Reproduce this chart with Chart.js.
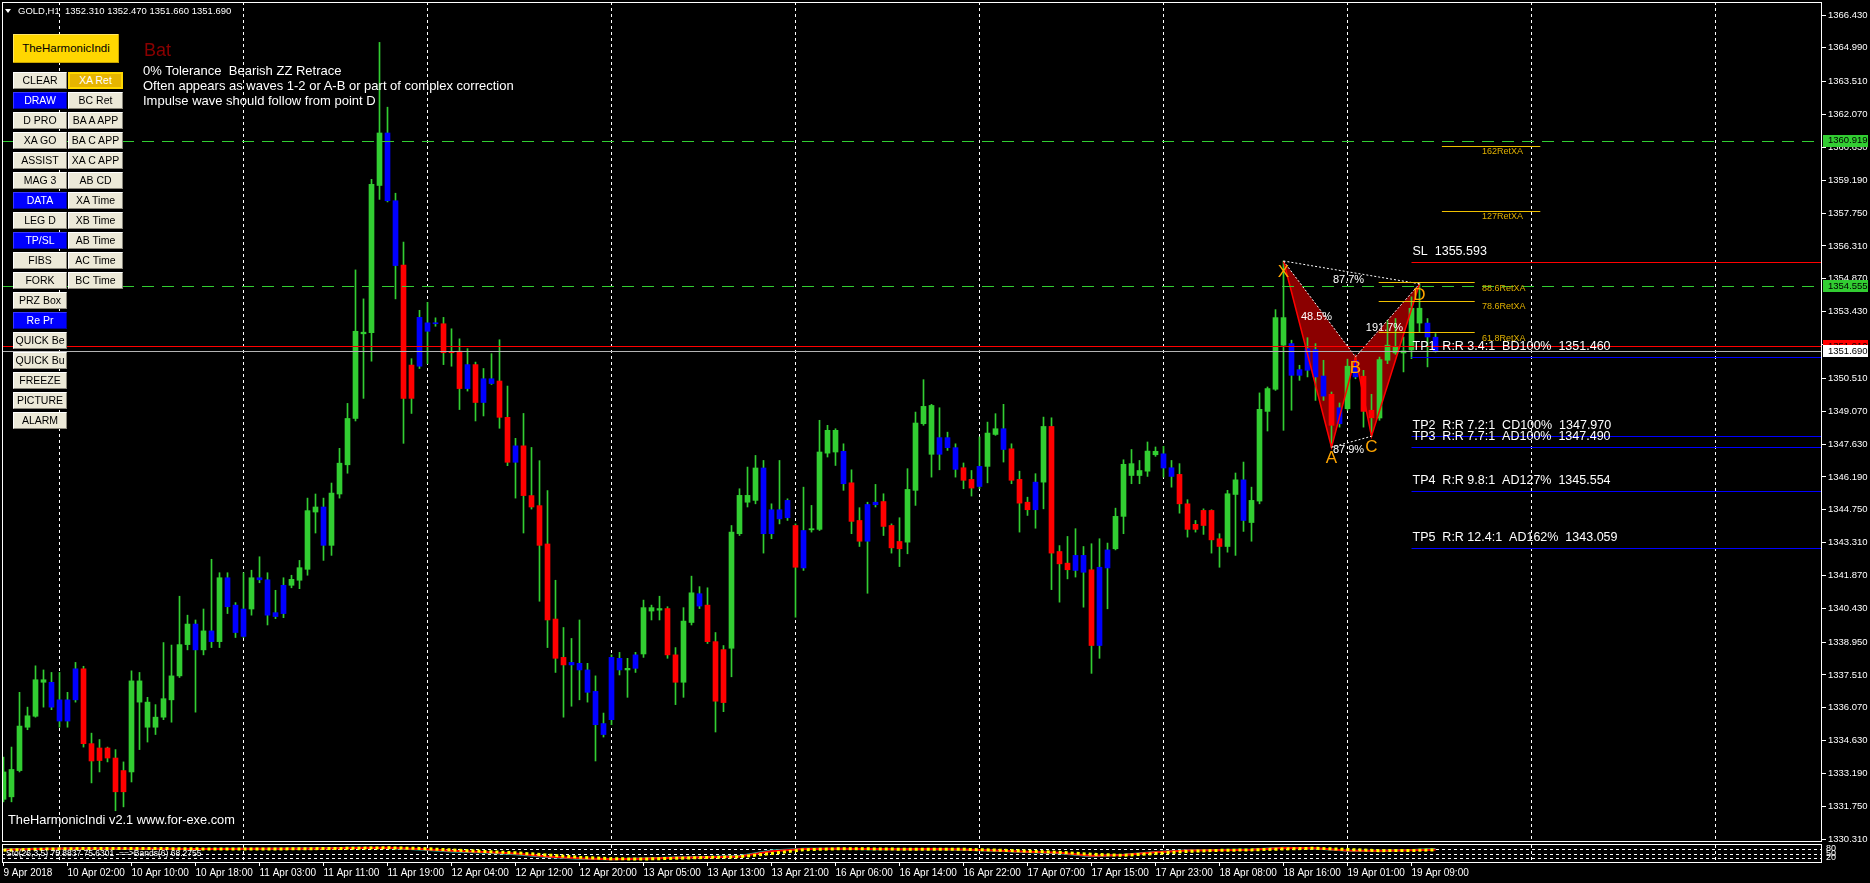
<!DOCTYPE html>
<html lang="en">
<head>
<meta charset="utf-8"/>
<title>GOLD,H1</title>
<script src="https://cdn.jsdelivr.net/npm/chart.js"></script>
<style>
  body { margin: 0; background: #000; overflow: hidden; font-family: "Liberation Sans", Arial, sans-serif; }
  #wrap { position: relative; width: 1870px; height: 883px; }
  canvas { position: absolute; left: 0; }
  #main { top: 0; }
  #sub { top: 843px; }
  .txt { position: absolute; color: #fff; white-space: pre; }
  .tri { position: absolute; left: 5px; top: 9px; width: 0; height: 0;
         border-left: 3.5px solid transparent; border-right: 3.5px solid transparent; border-top: 4px solid #fff; }
  #title { position: absolute; left: 13px; top: 34px; width: 106px; height: 29px; background: #ffd700;
           box-shadow: inset -1px -1px #c9a400, inset 1px 1px #ffe566; color: #000;
           font-size: 11.5px; line-height: 29px; text-align: center; }
  .btn { position: absolute; height: 17px; box-sizing: border-box; font-size: 10.5px; line-height: 15px;
         text-align: center; color: #000; background: #ece9d8; border: 1px solid;
         border-color: #fff #8a877c #8a877c #fff; white-space: nowrap; }
  .blue { background: #0000ff; color: #fff; border-color: #3a3aff #00009a #00009a #3a3aff; }
  .gold { background: #e6b400; color: #fff; border: 2px solid #ffd700; line-height: 13px; }
</style>
</head>
<body>
<div id="wrap">
  <canvas id="main" width="1870" height="843"></canvas>
  <canvas id="sub" width="1870" height="40"></canvas>
  <div class="tri"></div>
  <div class="txt" style="left:18px;top:5px;font-size:9.5px;line-height:12px">GOLD,H1  1352.310 1352.470 1351.660 1351.690</div>
  <div class="txt" style="left:144px;top:41px;font-size:18px;line-height:18px;color:#8b0000">Bat</div>
  <div class="txt" style="left:143px;top:63px;font-size:13px;line-height:15.2px">0% Tolerance  Bearish ZZ Retrace
Often appears as waves 1-2 or A-B or part of complex correction
Impulse wave should follow from point D</div>
  <div id="title">TheHarmonicIndi</div>
  <div id="panel"></div>
  <div class="txt" style="left:8px;top:812px;font-size:12.8px;line-height:16px">TheHarmonicIndi v2.1 www.for-exe.com</div>
</div>

<script>
// GOLD H1 candles, bar 0 = 9 Apr 18:00 ... bar 179 = 19 Apr 12:00
const barOpen = [
  1332.06,1332.17,1333.32,1335.22,1335.70,1337.19,1337.19,1336.42,1335.49,1336.42,
  1337.78,1334.50,1334.31,1334.31,1333.87,1333.32,1333.26,1336.32,1335.22,1335.22,
  1335.66,1336.42,1337.47,1338.84,1339.74,1338.61,1339.44,1338.97,1341.77,1340.57,
  1339.20,1340.40,1341.77,1341.68,1340.24,1340.20,1341.44,1341.66,1342.14,1344.65,
  1344.87,1343.19,1345.44,1346.72,1348.75,1352.46,1352.51,1358.96,1361.26,1358.29,
  1355.47,1351.09,1351.04,1352.94,1352.90,1352.90,1351.68,1351.70,1350.06,1351.11,
  1349.45,1350.49,1350.39,1348.80,1346.83,1347.55,1345.37,1344.93,1343.25,1339.96,
  1338.28,1337.95,1338.02,1337.73,1336.79,1335.38,1335.55,1338.24,1337.73,1337.80,
  1338.43,1340.31,1340.35,1340.42,1338.39,1337.19,1339.81,1341.07,1340.57,1338.97,
  1338.62,1338.68,1343.70,1345.08,1345.16,1346.58,1343.70,1344.75,1344.40,1344.06,
  1342.20,1343.87,1343.89,1347.23,1347.28,1347.31,1345.93,1344.28,1343.37,1344.97,
  1345.11,1344.06,1343.36,1343.33,1345.60,1348.52,1347.18,1347.91,1347.47,1347.47,
  1346.59,1346.08,1345.77,1346.65,1348.05,1348.30,1347.42,1346.08,1345.08,1344.75,
  1345.96,1348.40,1342.92,1342.41,1342.09,1342.75,1342.12,1338.80,1342.20,1343.04,
  1344.46,1346.25,1346.25,1346.44,1347.16,1347.20,1346.59,1346.30,1345.01,1344.11,
  1344.72,1344.72,1343.48,1343.14,1345.42,1346.06,1344.19,1345.13,1349.06,1350.03,
  1351.96,1352.03,1350.89,1350.86,1351.77,1350.61,1349.81,1348.52,1349.18,1351.30,
  1350.60,1349.11,1348.77,1351.30,1351.62,1351.62,1351.75,1353.58,1352.93,1352.31
];
const barHigh = [
  1333.91,1334.35,1336.75,1336.10,1337.91,1337.73,1337.62,1337.62,1336.75,1338.06,
  1337.89,1334.96,1334.68,1334.35,1334.24,1333.70,1337.69,1337.62,1336.53,1336.21,
  1338.93,1338.82,1340.96,1340.13,1339.92,1340.40,1342.58,1341.99,1341.99,1340.68,
  1341.99,1342.10,1342.69,1341.99,1341.22,1341.77,1341.88,1342.53,1345.26,1345.44,
  1345.26,1345.92,1347.44,1349.41,1355.26,1353.99,1359.23,1365.23,1362.39,1358.62,
  1356.48,1351.37,1353.49,1353.84,1353.16,1353.18,1352.68,1352.24,1351.81,1351.22,
  1350.94,1351.59,1352.20,1350.17,1347.88,1348.97,1347.48,1346.90,1345.59,1341.66,
  1339.59,1339.11,1339.92,1338.02,1337.47,1335.84,1338.39,1338.50,1338.24,1338.50,
  1340.79,1340.57,1340.96,1340.50,1338.71,1340.46,1341.84,1341.38,1341.33,1339.37,
  1338.80,1344.06,1345.67,1346.62,1347.13,1346.91,1345.01,1346.91,1345.23,1344.13,
  1345.74,1344.94,1348.67,1348.45,1348.30,1347.64,1346.50,1344.84,1345.08,1345.86,
  1345.45,1344.13,1344.40,1346.55,1349.03,1350.45,1349.37,1349.22,1348.15,1347.64,
  1346.80,1346.47,1347.94,1348.59,1348.96,1349.37,1347.64,1346.44,1345.30,1346.33,
  1348.81,1348.78,1343.18,1343.58,1343.92,1343.14,1343.26,1343.48,1343.29,1344.82,
  1346.94,1347.39,1346.91,1347.72,1347.50,1347.53,1346.91,1346.77,1345.19,1344.28,
  1344.79,1344.75,1343.70,1345.60,1346.36,1346.84,1345.74,1349.87,1350.13,1353.52,
  1355.65,1352.18,1351.08,1352.29,1352.03,1351.30,1349.91,1349.43,1351.35,1351.45,
  1350.86,1349.81,1351.44,1353.05,1353.13,1352.32,1354.08,1354.65,1353.13,1352.47
];
const barLow = [
  1331.95,1331.95,1333.26,1335.11,1335.66,1336.10,1335.99,1335.22,1335.22,1336.32,
  1334.35,1332.78,1333.26,1333.70,1331.56,1331.73,1332.82,1334.24,1334.57,1334.90,
  1335.55,1335.44,1337.40,1338.61,1335.88,1338.39,1338.71,1338.71,1340.20,1339.15,
  1339.15,1340.13,1341.55,1339.70,1339.98,1340.02,1341.33,1341.29,1341.88,1343.73,
  1342.53,1342.75,1345.26,1346.35,1348.64,1349.63,1351.26,1358.35,1358.24,1353.99,
  1347.66,1348.97,1350.94,1351.15,1352.79,1351.11,1351.04,1349.14,1349.95,1348.64,
  1348.86,1350.24,1348.32,1346.68,1345.26,1343.73,1344.78,1340.74,1338.71,1337.62,
  1335.66,1336.14,1336.42,1336.32,1333.74,1334.79,1335.33,1337.51,1336.53,1337.62,
  1338.28,1339.92,1339.92,1338.24,1336.21,1336.53,1339.70,1340.42,1338.89,1335.01,
  1335.90,1337.43,1343.62,1344.87,1345.01,1342.85,1343.48,1344.13,1344.28,1340.04,
  1342.09,1343.77,1343.84,1347.06,1346.69,1345.60,1343.70,1343.14,1341.09,1344.87,
  1343.62,1342.85,1342.26,1342.82,1344.94,1348.45,1346.18,1346.50,1347.35,1346.18,
  1345.67,1345.35,1345.67,1345.93,1348.01,1346.84,1345.89,1343.77,1344.50,1343.94,
  1344.79,1341.25,1340.70,1341.72,1341.80,1340.48,1337.58,1338.24,1340.41,1342.99,
  1343.70,1345.89,1345.89,1346.21,1347.09,1346.18,1345.74,1344.60,1343.55,1343.77,
  1343.67,1342.85,1342.23,1342.89,1342.75,1343.80,1343.37,1345.01,1348.20,1349.98,
  1348.23,1349.11,1350.42,1350.57,1349.54,1349.54,1347.49,1348.37,1349.11,1350.49,
  1348.37,1347.97,1348.67,1351.15,1351.56,1350.79,1351.37,1352.54,1351.01,1351.66
];
const barClose = [
  1333.26,1333.37,1335.27,1335.72,1337.30,1337.30,1336.10,1335.49,1336.42,1337.78,
  1334.50,1333.74,1333.76,1333.87,1332.39,1332.39,1337.25,1337.25,1336.32,1335.66,
  1336.47,1337.47,1338.84,1339.74,1338.61,1339.44,1338.97,1341.77,1340.50,1339.37,
  1340.40,1341.77,1341.68,1340.13,1340.07,1341.44,1341.70,1342.21,1344.71,1344.87,
  1343.19,1345.48,1346.79,1348.75,1352.57,1352.53,1359.01,1361.26,1358.29,1355.45,
  1349.63,1349.63,1353.18,1352.57,1352.94,1351.63,1351.63,1350.06,1351.11,1349.45,
  1350.49,1350.28,1348.80,1346.83,1347.55,1345.37,1344.87,1343.19,1339.92,1338.24,
  1337.95,1338.06,1337.73,1336.75,1335.33,1334.90,1338.28,1337.73,1337.80,1338.39,
  1340.46,1340.46,1340.42,1338.39,1337.19,1339.87,1341.11,1340.53,1338.97,1336.36,
  1336.30,1343.77,1345.38,1345.38,1346.58,1343.70,1344.75,1344.35,1345.16,1342.23,
  1343.84,1343.92,1347.28,1348.23,1348.23,1345.89,1344.24,1343.37,1344.98,1345.08,
  1344.02,1343.08,1343.04,1345.64,1348.55,1349.28,1349.32,1347.18,1347.91,1346.52,
  1346.04,1345.70,1346.65,1348.11,1348.30,1347.39,1346.04,1345.04,1344.75,1345.96,
  1348.40,1342.85,1342.38,1342.12,1342.75,1342.01,1338.80,1342.23,1342.99,1344.46,
  1346.74,1346.77,1346.47,1347.32,1347.31,1346.58,1346.21,1345.01,1343.89,1343.89,
  1344.06,1343.43,1343.14,1345.45,1346.06,1344.28,1345.16,1349.15,1350.06,1353.17,
  1353.17,1350.64,1350.64,1351.81,1350.57,1349.73,1348.45,1349.22,1351.04,1350.57,
  1349.06,1348.78,1351.33,1351.96,1351.91,1351.71,1353.58,1352.93,1352.32,1351.69
];
// 1 = bull bar, -1 = bear bar, 0 = bar flagged by the indicator
const barKind = [
   1, 1, 1, 1, 1, 1, 0, 0, 0, 0,
  -1,-1,-1,-1,-1,-1, 1, 1, 1, 1,
   1, 1, 1, 1, 0, 1, 0, 1, 0, 0,
   0, 1, 0, 0, 0, 0, 1, 1, 1, 1,
   0, 1, 1, 1, 1, 1, 1, 1, 0, 0,
  -1,-1, 0, 0, 0,-1,-1,-1, 0,-1,
   0, 0,-1,-1, 0,-1,-1,-1,-1,-1,
  -1, 0, 0, 0, 0, 0, 0, 0, 1, 0,
   1, 1, 1,-1,-1, 1, 1, 0,-1,-1,
  -1, 1, 1, 1, 1, 0, 0, 0, 0,-1,
   0, 1, 1, 1, 1, 0,-1,-1, 0, 0,
  -1,-1,-1, 1, 1, 1, 1, 0, 0, 0,
  -1,-1, 0, 1, 1, 0,-1,-1,-1, 0,
   1,-1,-1,-1, 0, 0,-1, 0, 0, 1,
   1, 1, 1, 1, 1, 0, 0,-1,-1,-1,
  -1,-1,-1, 1, 1, 0, 1, 1, 1, 1,
   1, 0, 0, 0, 0, 0,-1, 0, 1, 0,
  -1,-1, 1, 1, 1, 1, 1, 1, 0, 0
];

// one time label every 8 bars, starting at bar 0
const timeLabels = ['9 Apr 2018','10 Apr 02:00','10 Apr 10:00','10 Apr 18:00','11 Apr 03:00','11 Apr 11:00',
  '11 Apr 19:00','12 Apr 04:00','12 Apr 12:00','12 Apr 20:00','13 Apr 05:00','13 Apr 13:00','13 Apr 21:00',
  '16 Apr 06:00','16 Apr 14:00','16 Apr 22:00','17 Apr 07:00','17 Apr 15:00','17 Apr 23:00','18 Apr 08:00',
  '18 Apr 16:00','19 Apr 01:00','19 Apr 09:00'];
const priceTicks = [1366.43,1364.99,1363.51,1362.07,1360.63,1359.19,1357.75,1356.31,1354.87,1353.43,
  1351.99,1350.51,1349.07,1347.63,1346.19,1344.75,1343.31,1341.87,1340.43,1338.95,1337.51,1336.07,
  1334.63,1333.19,1331.75,1330.31];
const gridBars = [7, 30, 53, 76, 99, 122, 145, 168, 191, 214];

// harmonic Bat pattern
const pointNames = ['X', 'A', 'B', 'C', 'D'];
const pointBars = [160, 166, 169, 171, 177];
const pointPrices = [1355.65, 1347.49, 1351.45, 1347.97, 1354.65];
const ratioPairs = [[0, 2], [1, 3], [2, 4], [0, 4]];
const ratioLabels = ['48.5%', '87.9%', '191.7%', '87.7%'];

const fibNames = ['61.8RetXA', '78.6RetXA', '88.6RetXA', '127RetXA', '162RetXA'];
const fibPrices = [1352.53, 1353.90, 1354.72, 1357.85, 1360.69];
const fibFrom = [171.9, 171.9, 171.9, 179.8, 179.8];
const fibTo = [183.9, 183.9, 183.9, 192.1, 192.1];
const fibTextBar = 184.8;

const tradeFrom = 176;
const slPrice = 1355.593;
const tpPrices = [1351.460, 1347.970, 1347.490, 1345.554, 1343.059];
const tpLabels = ['TP1  R:R 3.4:1  BD100%  1351.460', 'TP2  R:R 7.2:1  CD100%  1347.970',
  'TP3  R:R 7.7:1  AD100%  1347.490', 'TP4  R:R 9.8:1  AD127%  1345.554', 'TP5  R:R 12.4:1  AD162%  1343.059'];
const zoneLevels = [1360.919, 1354.555];
const askPrice = 1351.91;
const bidPrice = 1351.69;

// stochastic sub-window, sampled every 4 bars
const stoBars = [0,4,8,12,16,20,24,28,32,36,40,44,48,52,56,60,64,68,72,76,80,84,88,92,
  96,100,104,108,112,116,120,124,128,132,136,140,144,148,152,156,160,164,168,172,176,179];
const stoMain = [75,80,83,84,83,82,80,80,81,82,84,87,88,80,68,60,50,30,18,12,15,22,25,30,
  65,80,82,80,78,80,76,70,62,55,35,40,58,70,72,75,86,85,70,68,72,75];
const stoSignal = [72,78,82,84,84,83,81,80,80,81,83,85,88,84,74,64,55,40,25,15,13,18,24,28,
  50,75,81,81,79,79,78,73,66,58,45,38,50,64,71,74,80,85,77,69,70,74];
const stoBand = [78,82,84,83,82,81,80,81,82,83,85,88,87,76,64,57,45,26,15,11,16,24,27,34,
  70,82,82,79,78,80,75,68,60,52,32,42,60,71,73,77,88,84,68,68,73,80];
const stoLevels = [20, 50, 80];

// button panel
const panelLeft = ['CLEAR','DRAW','D PRO','XA GO','ASSIST','MAG 3','DATA','LEG D','TP/SL','FIBS','FORK',
  'PRZ Box','Re Pr','QUICK Be','QUICK Bu','FREEZE','PICTURE','ALARM'];
const panelRight = ['XA Ret','BC Ret','BA A APP','BA C APP','XA C APP','AB CD','XA Time','XB Time',
  'AB Time','AC Time','BC Time'];
const panelOn = ['DRAW', 'DATA', 'TP/SL', 'Re Pr'];

const panel = document.getElementById('panel');
function addButton(text, left, top, width, cls) {
  const b = document.createElement('div');
  b.className = cls;
  b.textContent = text;
  b.style.left = left + 'px';
  b.style.top = top + 'px';
  b.style.width = width + 'px';
  panel.appendChild(b);
}
panelLeft.forEach((t, r) => addButton(t, 13, 72 + 20 * r, 54, panelOn.includes(t) ? 'btn blue' : 'btn'));
panelRight.forEach((t, r) => addButton(t, 68, 72 + 20 * r, 55, r === 0 ? 'btn gold' : 'btn'));

Chart.defaults.font.family = "'Liberation Sans', Arial, sans-serif";
Chart.defaults.color = '#fff';

const xMin = -0.1875, xMax = 227.3125;
const kindColour = k => (k > 0 ? '#32cd32' : (k < 0 ? '#ff0000' : '#0000ff'));

const bodyData = barOpen.map((o, i) => ({ x: i, y: [o, barClose[i]] }));
const wickData = barOpen.map((o, i) => ({ x: i, y: [barLow[i], barHigh[i]] }));
const patternPts = pointBars.map((b, i) => ({ x: b, y: pointPrices[i] }));

function hLine(ctx, y, x0, x1, colour, dash, width) {
  const yy = Math.round(y) + 0.5;
  ctx.strokeStyle = colour;
  ctx.lineWidth = width || 1;
  ctx.setLineDash(dash || []);
  ctx.beginPath();
  ctx.moveTo(x0, yy);
  ctx.lineTo(x1, yy);
  ctx.stroke();
  ctx.setLineDash([]);
}

function vGrid(chart) {
  const { ctx, chartArea: a, scales: { x } } = chart;
  ctx.save();
  ctx.strokeStyle = '#ffffff';
  ctx.lineWidth = 1;
  ctx.setLineDash([3, 3]);
  gridBars.forEach(b => {
    const gx = Math.floor(x.getPixelForValue(b)) + 0.5;
    ctx.beginPath();
    ctx.moveTo(gx, a.top);
    ctx.lineTo(gx, a.bottom);
    ctx.stroke();
  });
  ctx.restore();
}

const mainOverlay = {
  id: 'mainOverlay',
  beforeDatasetsDraw(chart) {
    const { ctx, chartArea: a, scales: { x, y } } = chart;
    vGrid(chart);
    ctx.save();
    ctx.beginPath();
    ctx.rect(a.left, a.top, a.right - a.left, a.bottom - a.top);
    ctx.clip();
    ctx.fillStyle = '#8b0000';
    [[0, 1, 2], [2, 3, 4]].forEach(tri => {
      ctx.beginPath();
      tri.forEach((k, j) => {
        const X = x.getPixelForValue(pointBars[k]), Y = y.getPixelForValue(pointPrices[k]);
        if (j) ctx.lineTo(X, Y); else ctx.moveTo(X, Y);
      });
      ctx.closePath();
      ctx.fill();
    });
    ctx.restore();
  },
  afterDatasetsDraw(chart) {
    const { ctx, chartArea: a, scales: { x, y } } = chart;
    ctx.save();
    ctx.beginPath();
    ctx.rect(a.left, a.top, a.right - a.left, a.bottom - a.top);
    ctx.clip();

    zoneLevels.forEach(p => hLine(ctx, y.getPixelForValue(p), a.left, a.right, '#32cd32', [12, 8]));
    fibPrices.forEach((p, i) => hLine(ctx, y.getPixelForValue(p), x.getPixelForValue(fibFrom[i]),
      x.getPixelForValue(fibTo[i]), '#f0c000'));
    const tx = x.getPixelForValue(tradeFrom);
    hLine(ctx, y.getPixelForValue(slPrice), tx, a.right, '#ff0000');
    tpPrices.forEach(p => hLine(ctx, y.getPixelForValue(p), tx, a.right, '#0000ff'));
    hLine(ctx, y.getPixelForValue(askPrice), a.left, a.right, '#ff0000');
    hLine(ctx, y.getPixelForValue(bidPrice), a.left, a.right, '#b4b4b4');

    ctx.textBaseline = 'middle';
    ctx.textAlign = 'left';
    ctx.font = "9px 'Liberation Sans', Arial, sans-serif";
    ctx.fillStyle = '#e0b000';
    fibNames.forEach((t, i) => ctx.fillText(t, x.getPixelForValue(fibTextBar), y.getPixelForValue(fibPrices[i]) + 6));

    ctx.font = "12.5px 'Liberation Sans', Arial, sans-serif";
    ctx.fillStyle = '#ffffff';
    ctx.fillText('SL  ' + slPrice.toFixed(3), tx + 1, y.getPixelForValue(slPrice) - 10.5);
    tpLabels.forEach((t, i) => ctx.fillText(t, tx + 1, y.getPixelForValue(tpPrices[i]) - 10.5));

    ctx.textAlign = 'center';
    ctx.font = "11px 'Liberation Sans', Arial, sans-serif";
    ratioPairs.forEach(([p, q], i) => {
      const mx = (x.getPixelForValue(pointBars[p]) + x.getPixelForValue(pointBars[q])) / 2;
      const my = (y.getPixelForValue(pointPrices[p]) + y.getPixelForValue(pointPrices[q])) / 2;
      ctx.fillText(ratioLabels[i], mx - 3, my + 8);
    });
    ctx.font = "17px 'Liberation Sans', Arial, sans-serif";
    ctx.fillStyle = '#ffa500';
    pointNames.forEach((n, i) => ctx.fillText(n, x.getPixelForValue(pointBars[i]), y.getPixelForValue(pointPrices[i]) + 11));
    ctx.restore();
  },
  afterDraw(chart) {
    const { ctx, chartArea: a, scales: { y } } = chart;
    ctx.save();
    ctx.strokeStyle = '#ffffff';
    ctx.lineWidth = 1;
    ctx.strokeRect(a.left + 0.5, a.top + 0.5, a.right - a.left - 1, a.bottom - a.top - 1);
    ctx.font = "9.5px 'Liberation Sans', Arial, sans-serif";
    ctx.textBaseline = 'middle';
    ctx.textAlign = 'left';
    const tag = (price, bg, fg) => {
      const ty = y.getPixelForValue(price);
      ctx.fillStyle = bg;
      ctx.fillRect(a.right + 1, Math.round(ty) - 6, 45, 12);
      ctx.fillStyle = fg;
      ctx.fillText(price.toFixed(3), a.right + 6, ty);
    };
    zoneLevels.forEach(p => tag(p, '#32cd32', '#000'));
    tag(askPrice, '#ff0000', '#000');
    tag(bidPrice, '#ffffff', '#000');
    ctx.restore();
  }
};

new Chart(document.getElementById('main'), {
  type: 'bar',
  data: {
    datasets: [
      { data: bodyData, backgroundColor: c => kindColour(barKind[c.dataIndex]), barThickness: 5,
        grouped: false, minBarLength: 1, borderWidth: 0, order: 0 },
      { data: wickData, backgroundColor: '#32cd32', barThickness: 1, grouped: false, borderWidth: 0, order: 1 },
      { type: 'line', data: patternPts, borderColor: '#ff0000', borderWidth: 1.5, pointRadius: 0, order: -1 },
      ...ratioPairs.map(([p, q]) => ({ type: 'line', data: [patternPts[p], patternPts[q]], borderColor: '#ffffff',
        borderWidth: 1, borderDash: [2, 2], pointRadius: 0, order: -2 }))
    ]
  },
  options: {
    responsive: false,
    animation: false,
    events: [],
    layout: { padding: { left: 2, top: 2, right: 0, bottom: 1 } },
    plugins: { legend: { display: false }, tooltip: { enabled: false } },
    scales: {
      x: { type: 'linear', min: xMin, max: xMax, offset: false, display: false, grid: { offset: false } },
      y: {
        position: 'right', min: 1330.19, max: 1367.0,
        afterBuildTicks: s => { s.ticks = priceTicks.map(v => ({ value: v })); },
        afterFit: s => { s.width = 48; s.paddingTop = 0; s.paddingBottom = 0; },
        ticks: { autoSkip: false, color: '#fff', padding: 2, font: { size: 9.5 }, callback: v => v.toFixed(3) },
        grid: { drawOnChartArea: false, drawTicks: true, tickLength: 4, tickColor: '#fff' },
        border: { display: false }
      }
    }
  },
  plugins: [mainOverlay]
});

const subOverlay = {
  id: 'subOverlay',
  beforeDatasetsDraw(chart) {
    const { ctx, chartArea: a, scales: { y } } = chart;
    vGrid(chart);
    ctx.save();
    ctx.strokeStyle = '#ffffff';
    ctx.setLineDash([3, 3]);
    stoLevels.forEach(v => {
      const ly = Math.round(y.getPixelForValue(v)) + 0.5;
      ctx.beginPath();
      ctx.moveTo(a.left, ly);
      ctx.lineTo(a.right, ly);
      ctx.stroke();
    });
    ctx.restore();
  },
  afterDatasetsDraw(chart) {
    const { ctx, chartArea: a } = chart;
    ctx.save();
    ctx.strokeStyle = '#ffffff';
    ctx.lineWidth = 1;
    ctx.strokeRect(a.left + 0.5, a.top - 0.5, a.right - a.left - 1, a.bottom - a.top + 1);
    ctx.fillStyle = '#ffffff';
    ctx.font = "8.5px 'Liberation Sans', Arial, sans-serif";
    ctx.textBaseline = 'middle';
    ctx.fillText('Sto(26,3,5) 75.8837 75.6301  ==>Bands(6) 68.2755', a.left + 4, a.top + 9);
    ctx.restore();
  }
};

const stoLine = (vals, colour, width, dash) => ({
  data: stoBars.map((b, i) => ({ x: b, y: vals[i] })),
  borderColor: colour, borderWidth: width, borderDash: dash || [], pointRadius: 0, tension: 0
});

new Chart(document.getElementById('sub'), {
  type: 'line',
  data: {
    datasets: [
      stoLine(stoSignal, '#ffff00', 3, [3, 3]),
      stoLine(stoMain, '#ff0000', 2),
      stoLine(stoBand, '#20b2aa', 2)
    ]
  },
  options: {
    responsive: false,
    animation: false,
    events: [],
    layout: { padding: { left: 2, top: 2, right: 0, bottom: 0 } },
    plugins: { legend: { display: false }, tooltip: { enabled: false } },
    scales: {
      x: {
        type: 'linear', min: xMin, max: xMax, offset: false, position: 'bottom',
        afterBuildTicks: s => { s.ticks = timeLabels.map((_, i) => ({ value: i * 8 })); },
        afterFit: s => { s.height = 21; s.paddingLeft = 0; s.paddingRight = 0; },
        ticks: { autoSkip: false, maxRotation: 0, minRotation: 0, align: 'start', color: '#fff', padding: 1,
                 font: { size: 10 }, callback: (v, i) => timeLabels[i] },
        grid: { drawOnChartArea: false, drawTicks: true, tickLength: 4, tickColor: '#fff' },
        border: { display: false }
      },
      y: {
        position: 'right', min: -6.7, max: 106.7,
        afterBuildTicks: s => { s.ticks = stoLevels.map(v => ({ value: v })); },
        afterFit: s => { s.width = 48; s.paddingTop = 0; s.paddingBottom = 0; },
        ticks: { autoSkip: false, color: '#fff', padding: 4, font: { size: 9 } },
        grid: { drawOnChartArea: false, drawTicks: false },
        border: { display: false }
      }
    }
  },
  plugins: [subOverlay]
});
</script>
</body>
</html>
